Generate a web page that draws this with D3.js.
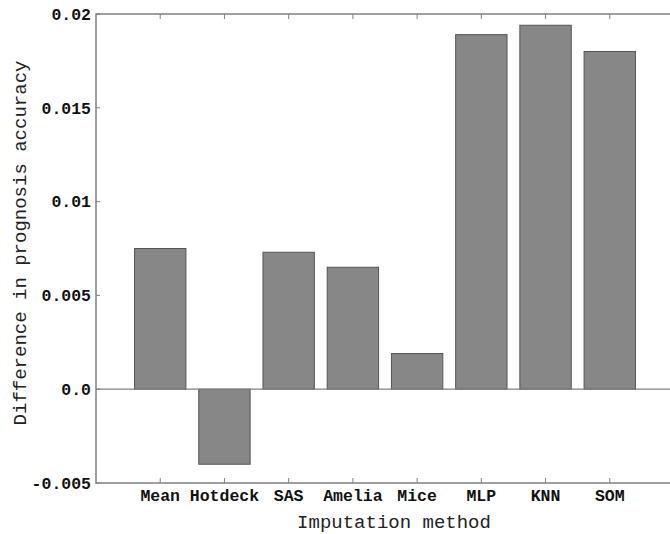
<!DOCTYPE html>
<html>
<head>
<meta charset="utf-8">
<script src="https://cdn.jsdelivr.net/npm/d3@7"></script>
<style>
  body { margin: 0; background: #fff; }
  svg { display: block; }
  .tick-label { font-family: "Liberation Mono", "Courier New", monospace; font-weight: bold; font-size: 16.5px; fill: #111; }
  .axis-title { font-family: "Liberation Mono", "Courier New", monospace; font-size: 19px; fill: #222; }
</style>
</head>
<body>
<svg id="chart" width="670" height="534"></svg>
<script>
// data
var methods = ["Mean", "Hotdeck", "SAS", "Amelia", "Mice", "MLP", "KNN", "SOM"];
var diffs = [0.0075, -0.0040, 0.0073, 0.0065, 0.0019, 0.0189, 0.0194, 0.0180];
var yTicks = [-0.005, 0.0, 0.005, 0.01, 0.015, 0.02];
var yTickLabels = ["-0.005", "0.0", "0.005", "0.01", "0.015", "0.02"];

var svg = d3.select("#chart");
var plotL = 96, plotR = 674, plotT = 14, plotB = 483;
var axisColor = "#808080";

var x = d3.scaleLinear().domain([0, methods.length + 1]).range([plotL, plotR]);
var y = d3.scaleLinear().domain([-0.005, 0.02]).range([plotB, plotT]);
var barW = (x(1) - x(0)) * 0.8;

// bars
svg.selectAll("rect.bar")
  .data(diffs)
  .enter().append("rect")
    .attr("class", "bar")
    .attr("x", function(d, i) { return x(i + 1) - barW / 2; })
    .attr("y", function(d) { return y(Math.max(0, d)); })
    .attr("width", barW)
    .attr("height", function(d) { return Math.abs(y(d) - y(0)); })
    .style("fill", "#878787")
    .style("stroke", "#555")
    .style("stroke-width", 1);

// zero line
svg.append("line")
  .attr("x1", plotL).attr("x2", plotR)
  .attr("y1", y(0)).attr("y2", y(0))
  .style("stroke", axisColor).style("stroke-width", 1.2);

// frame
svg.append("rect")
  .attr("x", plotL).attr("y", plotT)
  .attr("width", plotR - plotL).attr("height", plotB - plotT)
  .style("fill", "none").style("stroke", axisColor).style("stroke-width", 1.5);

// y ticks (inside, both sides)
var yt = svg.append("g");
yTicks.forEach(function(t, i) {
  yt.append("line").attr("x1", plotL).attr("x2", plotL + 4)
    .attr("y1", y(t)).attr("y2", y(t)).style("stroke", axisColor);
  yt.append("line").attr("x1", plotR).attr("x2", plotR - 4)
    .attr("y1", y(t)).attr("y2", y(t)).style("stroke", axisColor);
  yt.append("text").attr("class", "tick-label")
    .attr("x", plotL - 5).attr("y", y(t))
    .attr("dy", "0.35em").attr("text-anchor", "end")
    .text(yTickLabels[i]);
});

// x ticks (inside, top and bottom)
var xt = svg.append("g");
methods.forEach(function(m, i) {
  var px = x(i + 1);
  xt.append("line").attr("x1", px).attr("x2", px)
    .attr("y1", plotB).attr("y2", plotB - 5).style("stroke", axisColor);
  xt.append("line").attr("x1", px).attr("x2", px)
    .attr("y1", plotT).attr("y2", plotT + 5).style("stroke", axisColor);
  xt.append("text").attr("class", "tick-label")
    .attr("x", px).attr("y", 501)
    .attr("text-anchor", "middle")
    .text(m);
});

// axis titles
svg.append("text").attr("class", "axis-title")
  .attr("x", 394).attr("y", 528)
  .attr("text-anchor", "middle")
  .text("Imputation method");

svg.append("text").attr("class", "axis-title")
  .attr("transform", "translate(26,243) rotate(-90)")
  .attr("text-anchor", "middle")
  .text("Difference in prognosis accuracy");
</script>
</body>
</html>
